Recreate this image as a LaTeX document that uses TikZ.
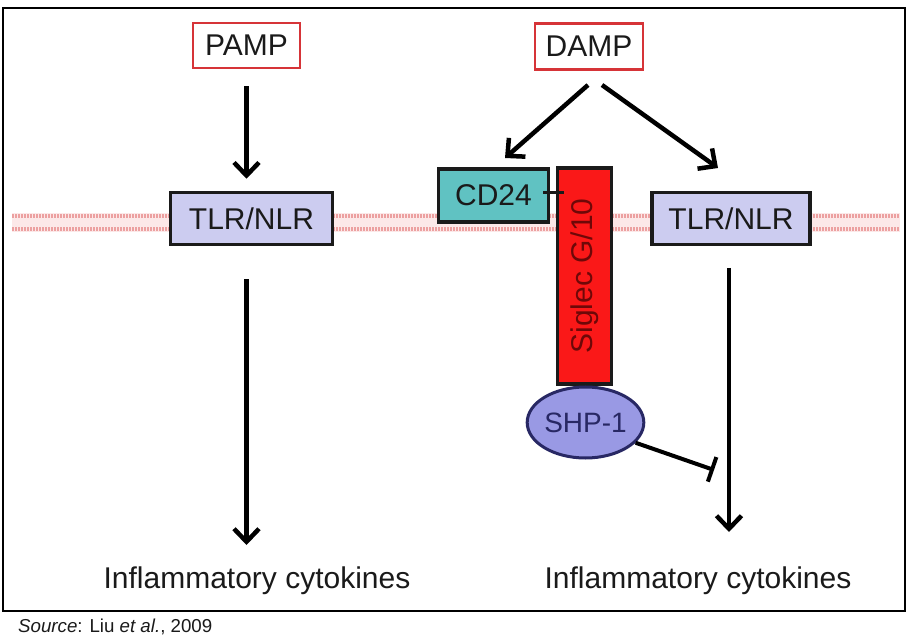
\documentclass[tikz,border=0pt]{standalone}
\usepackage{fontspec}
\setmainfont{Liberation Sans}
\usetikzlibrary{arrows.meta,shapes.geometric,calc}
\definecolor{boxred}{RGB}{214,52,56}
\definecolor{lav}{RGB}{204,204,240}
\definecolor{teal24}{RGB}{96,194,194}
\definecolor{sigred}{RGB}{250,24,24}
\definecolor{sigtext}{RGB}{110,8,8}
\definecolor{shpfill}{RGB}{153,153,228}
\definecolor{shptext}{RGB}{40,40,100}
\definecolor{memb}{RGB}{236,160,160}
\definecolor{membfill}{RGB}{252,232,232}
\definecolor{ink}{RGB}{26,26,26}
\tikzset{
  bigfont/.style={font=\fontsize{30}{34}\selectfont},
  ligand/.style={draw=boxred, line width=2.8pt, fill=white, bigfont, text=ink, minimum width=107pt, minimum height=45pt, inner sep=0pt},
  receptor/.style={draw=ink, line width=3.5pt, fill=lav, bigfont, text=ink, minimum width=162pt, minimum height=52pt, inner sep=0pt},
  arr/.style={line width=4.5pt, draw=black, -{Straight Barb[length=13pt,width=25pt,line width=4.5pt]}},
  outtext/.style={font=\fontsize{30}{34}\selectfont, text=ink, inner sep=0pt}
}
\begin{document}
\begin{tikzpicture}[x=1pt,y=-1pt]
\useasboundingbox (0,0) rectangle (916,644);
\fill[white] (0,0) rectangle (916,644);
% outer frame
\draw[line width=2.5pt] (3,8) rectangle (905,611);
% membrane
\fill[membfill] (12,213) rectangle (900,232);
\draw[memb, line width=3.5pt, dash pattern=on 1.5pt off 1.5pt] (12,216) -- (900,216);
\draw[memb, line width=3.5pt, dash pattern=on 1.5pt off 1.5pt] (12,229) -- (900,229);
% nodes
\node[ligand] (pamp) at (246.5,45.5) {PAMP};
\node[ligand, minimum width=108pt, minimum height=46pt] (damp) at (589,46.5) {DAMP};
\node[receptor] (tlr1) at (251.5,218.5) {TLR/NLR};
\node[receptor, minimum width=158pt] (tlr2) at (731,218.5) {TLR/NLR};
\node[draw=ink, line width=3.5pt, fill=teal24, bigfont, text=ink, minimum width=110pt, minimum height=53pt, inner sep=0pt] (cd24) at (493.5,195.5) {CD24};
\node[draw=ink, line width=3.5pt, fill=sigred, bigfont, text=sigtext, rotate=90, minimum width=216pt, minimum height=54pt, inner sep=0pt] (sig) at (584.5,276) {Siglec G/10};
\node[ellipse, draw=shptext, line width=3pt, fill=shpfill, text=shptext, font=\fontsize{28}{32}\selectfont, minimum width=105pt, minimum height=71pt, inner sep=0pt] (shp) at (585.5,422.5) {SHP-1};
\node[outtext] (inf1) at (257,581) {Inflammatory cytokines};
\node[outtext] (inf2) at (698,581) {Inflammatory cytokines};
\node[anchor=base west, font=\fontsize{18.7}{22}\selectfont, text=ink, inner sep=0pt] (src) at (18,632) {\textit{Source}: Liu \textit{et al.}, 2009};
% coordinates for arrow ends
\coordinate (e1) at (246.5,545);
\coordinate (s2) at (729,268);
\coordinate (e2) at (729,532);
\coordinate (d1) at (588,85);
\coordinate (d2) at (602,85);
\coordinate (t1) at (505,158);
\coordinate (t2) at (718,168);
\coordinate (inh) at (714,470);
\coordinate (c1) at (543,193);
\coordinate (c2) at (564,193);
% arrows
\draw[arr, shorten <=17pt, shorten >=12pt] (pamp.south) -- (tlr1.north -| pamp.south);
\draw[arr, shorten <=33pt] (tlr1.south -| pamp.south) -- (e1);
\draw[arr] (d1) -- (t1);
\draw[arr] (d2) -- (t2);
\draw[arr] (s2) -- (e2);
\draw[line width=4pt, -{Bar[width=26pt,line width=4pt]}] (shp.-22) -- (inh);
\draw[line width=3pt, ink] (c1) -- (c2);
\end{tikzpicture}
\end{document}
